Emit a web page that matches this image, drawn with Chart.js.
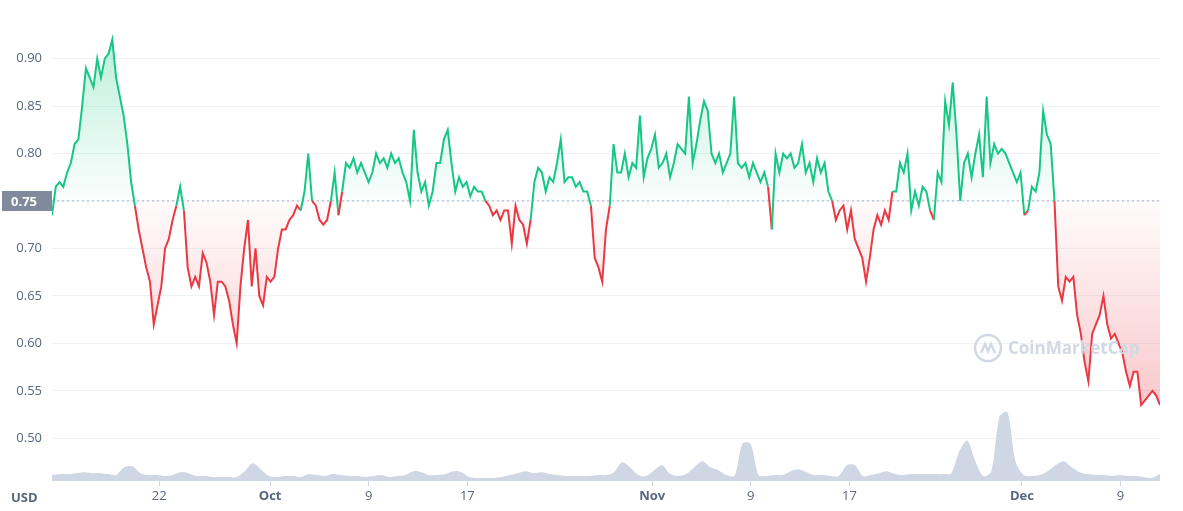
<!DOCTYPE html>
<html><head><meta charset="utf-8">
<script src="https://cdn.jsdelivr.net/npm/chart.js@4.4.1/dist/chart.umd.min.js"></script>
<style>html,body{margin:0;background:#fff}#w{width:1183px;height:511px}</style>
</head><body><div id="w"><canvas id="c"></canvas></div>
<script>
// Days since Sep 13 (first and last sample)
const startDay = 0.3, endDay = 90.2;
const baseline = 0.75;
const prices = [0.735,0.765,0.77,0.765,0.78,0.79,0.81,0.815,0.85,0.89,0.88,0.87,0.90,0.88,0.90,0.905,0.92,0.88,0.86,0.84,0.81,0.77,0.745,0.72,0.70,0.68,0.665,0.62,0.64,0.66,0.70,0.71,0.73,0.745,0.765,0.74,0.68,0.66,0.67,0.66,0.695,0.685,0.665,0.63,0.665,0.665,0.66,0.645,0.62,0.60,0.66,0.70,0.73,0.66,0.70,0.65,0.64,0.67,0.665,0.67,0.70,0.72,0.72,0.73,0.735,0.745,0.74,0.76,0.80,0.75,0.745,0.73,0.725,0.73,0.75,0.78,0.735,0.76,0.79,0.785,0.795,0.78,0.79,0.78,0.77,0.78,0.80,0.79,0.795,0.785,0.80,0.79,0.795,0.78,0.77,0.75,0.825,0.78,0.76,0.77,0.745,0.76,0.79,0.79,0.815,0.825,0.79,0.76,0.775,0.765,0.77,0.755,0.765,0.76,0.76,0.75,0.745,0.735,0.74,0.73,0.74,0.74,0.705,0.745,0.73,0.725,0.705,0.73,0.77,0.785,0.78,0.76,0.775,0.77,0.79,0.815,0.77,0.775,0.775,0.765,0.77,0.76,0.76,0.745,0.69,0.68,0.665,0.72,0.745,0.81,0.78,0.78,0.80,0.775,0.79,0.785,0.84,0.775,0.795,0.805,0.82,0.785,0.79,0.80,0.775,0.79,0.81,0.805,0.80,0.86,0.79,0.81,0.835,0.855,0.845,0.80,0.79,0.80,0.78,0.79,0.80,0.86,0.79,0.785,0.79,0.775,0.79,0.78,0.77,0.78,0.765,0.72,0.80,0.78,0.80,0.795,0.80,0.785,0.79,0.81,0.78,0.79,0.77,0.795,0.78,0.79,0.76,0.75,0.73,0.74,0.745,0.72,0.74,0.71,0.70,0.69,0.665,0.69,0.72,0.735,0.725,0.74,0.73,0.76,0.76,0.79,0.78,0.80,0.74,0.76,0.745,0.765,0.76,0.74,0.73,0.78,0.77,0.855,0.83,0.875,0.82,0.75,0.79,0.80,0.775,0.80,0.82,0.775,0.86,0.79,0.81,0.80,0.805,0.80,0.79,0.78,0.77,0.78,0.735,0.74,0.765,0.76,0.78,0.845,0.82,0.81,0.75,0.66,0.645,0.67,0.665,0.67,0.63,0.61,0.58,0.56,0.61,0.62,0.63,0.65,0.62,0.605,0.61,0.60,0.59,0.57,0.555,0.57,0.57,0.535,0.54,0.545,0.55,0.545,0.535];
const volumes = [6,7,7,8,9,8,8,7,6,14,15,8,6,6,5,6,9,8,5,5,4,4,4,4,10,18,12,5,4,5,5,4,7,6,5,7,6,5,5,4,5,6,4,5,6,10,9,6,6,7,10,9,4,3,3,3,4,6,8,10,8,9,7,6,5,5,5,5,6,6,9,19,14,6,5,11,16,7,5,7,14,20,14,11,6,5,38,38,6,5,6,6,10,12,9,6,6,5,5,16,16,5,6,8,10,7,6,7,7,7,7,7,8,30,41,20,5,10,65,70,20,6,5,6,10,16,20,14,9,7,6,6,5,6,5,5,4,3,7];
const tickDays = [9,18,26,34,49,57,65,79,87];
const tickLabels = ['22','Oct','9','17','Nov','9','17','Dec','9'];
const monthTicks = ['Oct','Nov','Dec'];

const GREEN='#16c784', RED='#ea3943';
const toPts = arr => arr.map((v,i)=>({x:startDay+i*(endDay-startDay)/(arr.length-1), y:v}));

const overlay = {
  id:'overlay',
  beforeDatasetsDraw(ch){
    const {ctx,chartArea:a,scales:{y}} = ch;
    const py = y.getPixelForValue(baseline);
    ctx.save();
    ctx.strokeStyle='#a6b0c3'; ctx.lineWidth=1; ctx.setLineDash([2,3]);
    ctx.beginPath(); ctx.moveTo(a.left,py); ctx.lineTo(a.right,py); ctx.stroke();
    ctx.restore();
  },
  afterDraw(ch){
    const {ctx,chartArea:a,scales:{y}} = ch;
    const py = y.getPixelForValue(baseline);
    ctx.save();
    ctx.fillStyle='#808a9d';
    ctx.fillRect(2,py-10,a.left-2,20);
    ctx.fillStyle='#fff'; ctx.font='bold 13px "Open Sans", sans-serif';
    ctx.textBaseline='middle'; ctx.textAlign='left';
    ctx.fillText(baseline.toFixed(2),11,py+1);
    ctx.fillStyle='#58667e'; ctx.font='bold 13px "Open Sans", sans-serif';
    ctx.fillText('USD',11,a.bottom+17);
    // watermark
    const wx=a.right-172, wy=y.getPixelForValue(0.595);
    ctx.strokeStyle='#d3d9e3'; ctx.lineWidth=2.5;
    ctx.beginPath(); ctx.arc(wx,wy,13,0,Math.PI*2); ctx.stroke();
    ctx.beginPath(); ctx.moveTo(wx-7,wy+5); ctx.lineTo(wx-3,wy-4); ctx.lineTo(wx,wy+3); ctx.lineTo(wx+3,wy-4); ctx.lineTo(wx+7,wy+5); ctx.stroke();
    ctx.fillStyle='#d3d9e3'; ctx.font='bold 17px "Open Sans", sans-serif';
    ctx.fillText('CoinMarketCap',wx+20,wy+1);
    ctx.restore();
  }
};

const chart = new Chart(document.getElementById('c'), {
  type:'line',
  data:{datasets:[
    {data:toPts(prices), yAxisID:'y', borderWidth:2, pointRadius:0, tension:0,
     borderColor:GREEN, fill:{target:{value:baseline}, above:'rgba(22,199,132,0.1)', below:'rgba(234,57,67,0.1)'},
     segment:{borderColor:c=>((c.p0.parsed.y+c.p1.parsed.y)/2>=baseline?GREEN:RED)}, order:1},
    {data:toPts(volumes), yAxisID:'v', borderWidth:0, pointRadius:0, tension:0.3,
     backgroundColor:'#cfd6e4', fill:'origin', order:2}
  ]},
  options:{
    responsive:true, maintainAspectRatio:false, animation:false,
    layout:{padding:{top:8,right:23,left:0,bottom:0}},
    plugins:{legend:{display:false}, tooltip:{enabled:false}},
    scales:{
      x:{type:'linear', min:startDay, max:endDay,
        afterBuildTicks:s=>{s.ticks=tickDays.map(v=>({value:v}));},
        afterFit:s=>{s.height=30;},
        grid:{display:true, drawOnChartArea:false, tickLength:5, color:'#cfd6e4'},
        border:{display:false},
        ticks:{autoSkip:false, maxRotation:0, padding:2, color:'#58667e',
          callback:(v,i)=>tickLabels[i],
          font:c=>({family:'"Open Sans", sans-serif', size:13, weight: monthTicks.includes(tickLabels[c.index])?'bold':'normal'})}},
      y:{position:'left', min:0.455, max:0.943,
        afterBuildTicks:s=>{s.ticks=[0.5,0.55,0.6,0.65,0.7,0.75,0.8,0.85,0.9].map(v=>({value:v}));},
        afterFit:s=>{s.width=52;},
        grid:{color:'#eff2f5', drawTicks:false}, border:{display:false},
        ticks:{padding:10, color:'#58667e', font:{family:'"Open Sans", sans-serif', size:13},
          callback:v=>v.toFixed(2)}},
      v:{display:false, min:0, max:471}
    }
  },
  plugins:[overlay]
});
const ys = chart.scales.y;
const ga = chart.ctx.createLinearGradient(0,ys.getPixelForValue(0.92),0,ys.getPixelForValue(baseline));
ga.addColorStop(0,'rgba(22,199,132,0.28)'); ga.addColorStop(1,'rgba(22,199,132,0.02)');
const gb = chart.ctx.createLinearGradient(0,ys.getPixelForValue(baseline),0,ys.getPixelForValue(0.53));
gb.addColorStop(0,'rgba(234,57,67,0.02)'); gb.addColorStop(1,'rgba(234,57,67,0.28)');
chart.data.datasets[0].fill={target:{value:baseline}, above:ga, below:gb};
chart.update('none');
</script></body></html>
